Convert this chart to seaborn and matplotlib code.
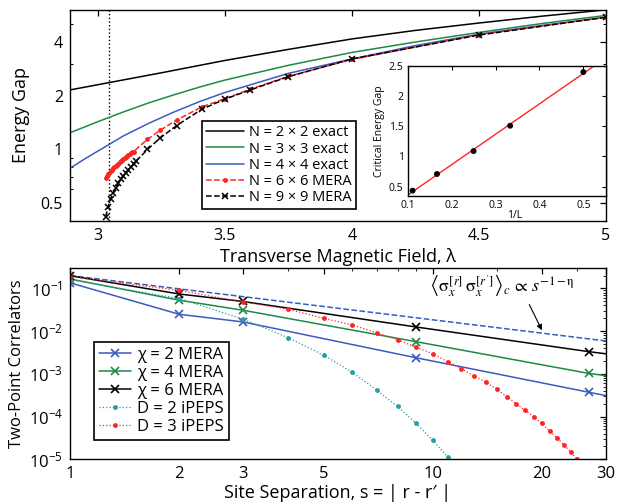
import numpy as np
import pandas as pd
import matplotlib
matplotlib.use("Agg")
import matplotlib.pyplot as plt
from matplotlib.ticker import FixedLocator, FixedFormatter, LogLocator, NullFormatter
import seaborn as sns

# ---------------- energy gap vs transverse field ----------------
lam_2x2 = [2.89, 3.0, 3.25, 3.5, 3.75, 4.0, 4.25, 4.5, 4.75, 5.0]
gap_2x2 = [2.15, 2.30, 2.68, 3.14, 3.62, 4.14, 4.62, 5.08, 5.55, 6.02]

lam_3x3 = [2.89, 2.95, 3.0, 3.1, 3.2, 3.3, 3.4, 3.5, 3.75, 4.0, 4.25, 4.5, 4.75, 5.0]
gap_3x3 = [1.24, 1.34, 1.43, 1.62, 1.82, 2.02, 2.23, 2.44, 2.95, 3.48, 3.98, 4.50, 5.05, 5.60]

lam_4x4 = [2.89, 2.95, 3.0, 3.05, 3.1, 3.2, 3.3, 3.4, 3.5, 3.75, 4.0, 4.25, 4.5, 4.75, 5.0]
gap_4x4 = [0.786, 0.89, 0.98, 1.08, 1.19, 1.40, 1.62, 1.85, 2.08, 2.66, 3.20, 3.80, 4.40, 4.93, 5.47]

lam_6x6 = [3.030, 3.035, 3.040, 3.045, 3.050, 3.055, 3.060, 3.065, 3.070, 3.075,
           3.080, 3.085, 3.090, 3.095, 3.100, 3.105, 3.110, 3.115, 3.120, 3.125,
           3.130, 3.135, 3.140, 3.195, 3.245, 3.31, 3.41, 3.5, 3.6, 3.75, 4.0, 4.5, 5.0]
gap_6x6 = [0.695, 0.712, 0.728, 0.743, 0.757, 0.771, 0.784, 0.797, 0.810, 0.822,
           0.834, 0.846, 0.858, 0.870, 0.882, 0.894, 0.906, 0.918, 0.930, 0.941,
           0.952, 0.963, 0.974, 1.14, 1.28, 1.46, 1.73, 1.92, 2.17, 2.56, 3.18, 4.38, 5.47]

lam_9x9 = [3.03, 3.04, 3.05, 3.06, 3.07, 3.08, 3.09, 3.10, 3.11, 3.12, 3.13, 3.14, 3.15,
           3.195, 3.245, 3.31, 3.41, 3.5, 3.6, 3.75, 4.0, 4.5, 5.0]
gap_9x9 = [0.42, 0.48, 0.53, 0.57, 0.61, 0.65, 0.68, 0.71, 0.74, 0.77, 0.80, 0.83, 0.86,
           1.00, 1.16, 1.36, 1.68, 1.91, 2.15, 2.55, 3.20, 4.35, 5.47]

lambda_c = 3.044

# critical gap vs inverse linear size
inv_L = [1 / 9, 1 / 6, 1 / 4, 1 / 3, 1 / 2]
crit_gap = [0.434, 0.71, 1.09, 1.51, 2.40]

# ---------------- two-point correlators ----------------
s_mera = [1, 2, 3, 9, 27, 30]
corr_chi2 = [0.135, 0.0248, 0.0164, 0.00238, 0.00037, 0.00031]
corr_chi4 = [0.166, 0.053, 0.0308, 0.00566, 0.00102, 0.00091]
corr_chi6 = [0.198, 0.074, 0.0494, 0.0125, 0.0033, 0.00295]

s_peps2 = [1, 2, 3, 4, 5, 6, 7, 8, 9, 10, 11]
corr_peps2 = [0.16, 0.058, 0.019, 0.0070, 0.00274, 0.00109, 0.00042, 0.000173,
              0.000069, 0.000028, 0.0000113]

s_peps3 = list(range(1, 26))
corr_peps3 = [0.19, 0.09, 0.048, 0.0326, 0.020, 0.0139, 0.0092, 0.0063, 0.0042, 0.00295,
              0.00191, 0.00133, 0.00088, 0.00064, 0.00044, 0.00029, 0.00020, 0.000139,
              0.000099, 0.000069, 0.000046, 0.000032, 0.0000217, 0.0000148, 0.0000100]

s_power = [1, 30]
corr_power = [0.2, 0.0059]

# ---------------- style ----------------
sns.set_theme(style="white")
plt.rcParams["font.family"] = ["Open Sans", "DejaVu Sans"]
plt.rcParams.update({
    "axes.edgecolor": "black",
    "axes.linewidth": 1.0,
    "xtick.direction": "in",
    "ytick.direction": "in",
    "xtick.color": "black",
    "ytick.color": "black",
    "text.color": "black",
    "axes.labelcolor": "black",
})

BLACK = "#000000"
GREEN = "#1d8a45"
BLUE = "#3b5bbf"
RED = "#ff2424"
TEAL = "#2a9f9f"

fig = plt.figure(figsize=(6.2, 5.04), dpi=100)
ax1 = fig.add_axes([0.113, 0.562, 0.864, 0.418])
ax2 = fig.add_axes([0.113, 0.0887, 0.864, 0.3795])
axin = fig.add_axes([0.6576, 0.6117, 0.3194, 0.2573])


def line(ax, x, y, color, **kw):
    df = pd.DataFrame({"x": x, "y": y})
    sns.lineplot(data=df, x="x", y="y", ax=ax, sort=False, estimator=None,
                 color=color, markeredgecolor=color, markerfacecolor=color, **kw)


# ---- top panel ----
ax1.set_yscale("log")
ax1.axvline(lambda_c, color="black", ls=":", lw=1.0)
line(ax1, lam_2x2, gap_2x2, BLACK, lw=1.1, label="N = 2 × 2 exact")
line(ax1, lam_3x3, gap_3x3, GREEN, lw=1.1, label="N = 3 × 3 exact")
line(ax1, lam_4x4, gap_4x4, BLUE, lw=1.1, label="N = 4 × 4 exact")
line(ax1, lam_6x6, gap_6x6, RED, lw=1.1, ls="--", marker="o", markersize=3.5,
     markeredgewidth=0, label="N = 6 × 6 MERA")
line(ax1, lam_9x9, gap_9x9, BLACK, lw=1.1, ls="--", marker="x", markersize=5,
     markeredgewidth=1.1, label="N = 9 × 9 MERA")

ax1.set_xlim(2.89, 5.0)
ax1.set_ylim(0.4, 6.0)
ax1.xaxis.set_major_locator(FixedLocator([3, 3.5, 4, 4.5, 5]))
ax1.xaxis.set_major_formatter(FixedFormatter(["3", "3.5", "4", "4.5", "5"]))
ax1.yaxis.set_major_locator(FixedLocator([0.5, 1, 2, 4]))
ax1.yaxis.set_major_formatter(FixedFormatter(["0.5", "1", "2", "4"]))
ax1.yaxis.set_minor_locator(FixedLocator([0.6, 0.7, 0.8, 0.9, 3, 5, 6]))
ax1.yaxis.set_minor_formatter(NullFormatter())
ax1.tick_params(which="major", top=True, right=True, length=4, width=0.9,
                labelsize=11.5, pad=5)
ax1.tick_params(which="minor", left=True, right=True, length=2, width=0.7)
ax1.set_xlabel("Transverse Magnetic Field, λ", fontsize=13, labelpad=3)
ax1.set_ylabel("Energy Gap", fontsize=13, labelpad=8)
leg1 = ax1.legend(loc="lower left", bbox_to_anchor=(0.246, 0.054), borderaxespad=0,
                  fontsize=10.5, frameon=True, fancybox=False, handlelength=2.6,
                  handletextpad=0.3, labelspacing=0.08, borderpad=0.3)
leg1.get_frame().set_edgecolor("black")
leg1.get_frame().set_linewidth(1.2)
leg1.get_frame().set_alpha(1)

# ---- inset ----
coef = np.polyfit(inv_L, crit_gap, 1)
fit_x = np.array([0.1, 0.551])
line(axin, fit_x, np.polyval(coef, fit_x), RED, lw=1.0)
sns.scatterplot(x=inv_L, y=crit_gap, ax=axin, color="black", s=18, edgecolor="none",
                zorder=3)
axin.set_xlim(0.1, 0.551)
axin.set_ylim(0.35, 2.5)
axin.set_xticks([0.1, 0.2, 0.3, 0.4, 0.5])
axin.set_xticklabels(["0.1", "0.2", "0.3", "0.4", "0.5"])
axin.set_yticks([0.5, 1, 1.5, 2, 2.5])
axin.set_yticklabels(["0.5", "1", "1.5", "2", "2.5"])
axin.tick_params(top=True, right=True, length=3, width=0.8, labelsize=7.5, pad=3)
axin.set_xlabel("1/L", fontsize=7.5)
axin.xaxis.set_label_coords(0.54, -0.11)
axin.set_ylabel("Critical Energy Gap", fontsize=7.5, labelpad=3)

# ---- bottom panel ----
ax2.set_xscale("log")
ax2.set_yscale("log")
line(ax2, s_power, corr_power, BLUE, lw=1.1, ls="--")
mera_marks = [0, 1, 2, 3, 4]
line(ax2, s_mera, corr_chi2, BLUE, lw=1.1, marker="x", markersize=6,
     markeredgewidth=1.2, markevery=mera_marks, label="χ = 2 MERA")
line(ax2, s_mera, corr_chi4, GREEN, lw=1.1, marker="x", markersize=6,
     markeredgewidth=1.2, markevery=mera_marks, label="χ = 4 MERA")
line(ax2, s_mera, corr_chi6, BLACK, lw=1.1, marker="x", markersize=6,
     markeredgewidth=1.2, markevery=mera_marks, label="χ = 6 MERA")
line(ax2, s_peps2, corr_peps2, TEAL, lw=0.9, ls=":", marker="o", markersize=3.5,
     markeredgewidth=0, label="D = 2 iPEPS")
line(ax2, s_peps3, corr_peps3, RED, lw=0.9, ls=":", marker="o", markersize=3.5,
     markeredgewidth=0, label="D = 3 iPEPS")

ax2.set_xlim(1, 30)
ax2.set_ylim(1e-5, 0.3)
ax2.xaxis.set_major_locator(FixedLocator([1, 2, 3, 5, 10, 20, 30]))
ax2.xaxis.set_major_formatter(FixedFormatter(["1", "2", "3", "5", "10", "20", "30"]))
ax2.xaxis.set_minor_locator(FixedLocator([4, 6, 7, 8, 9, 15, 25]))
ax2.xaxis.set_minor_formatter(NullFormatter())
ax2.yaxis.set_major_locator(LogLocator(base=10, numticks=10))
ax2.yaxis.set_minor_locator(LogLocator(base=10, subs=np.arange(2, 10), numticks=10))
ax2.yaxis.set_minor_formatter(NullFormatter())
ax2.tick_params(which="major", top=True, right=True, length=4, width=0.9,
                labelsize=12, pad=5)
ax2.tick_params(which="minor", top=True, right=True, length=2, width=0.6)
ax2.set_xlabel("Site Separation, s = | r - r′ |", fontsize=13, labelpad=1)
ax2.set_ylabel("Two-Point Correlators", fontsize=12, labelpad=3)

leg2 = ax2.legend(loc="lower left", bbox_to_anchor=(0.045, 0.101), borderaxespad=0,
                  fontsize=12, frameon=True, fancybox=False, handlelength=1.9,
                  handletextpad=0.4, labelspacing=0.12, borderpad=0.3)
leg2.get_frame().set_edgecolor("black")
leg2.get_frame().set_linewidth(1.2)
leg2.get_frame().set_alpha(1)

ax2.annotate(r"$\left\langle \mathrm{\sigma}_x^{[r]}\,\mathrm{\sigma}_x^{[r^\prime]}\right\rangle_c \,\propto\, s^{-1-\mathrm{\eta}}$",
             xy=(20, 0.0105), xytext=(15.5, 0.115), textcoords="data",
             ha="center", va="center", fontsize=13, math_fontfamily="stix",
             arrowprops=dict(arrowstyle="-|>", color="black", lw=0.8,
                             mutation_scale=8, relpos=(0.67, 0.0), shrinkA=2, shrinkB=0))

fig.savefig("out.png", dpi=100)
